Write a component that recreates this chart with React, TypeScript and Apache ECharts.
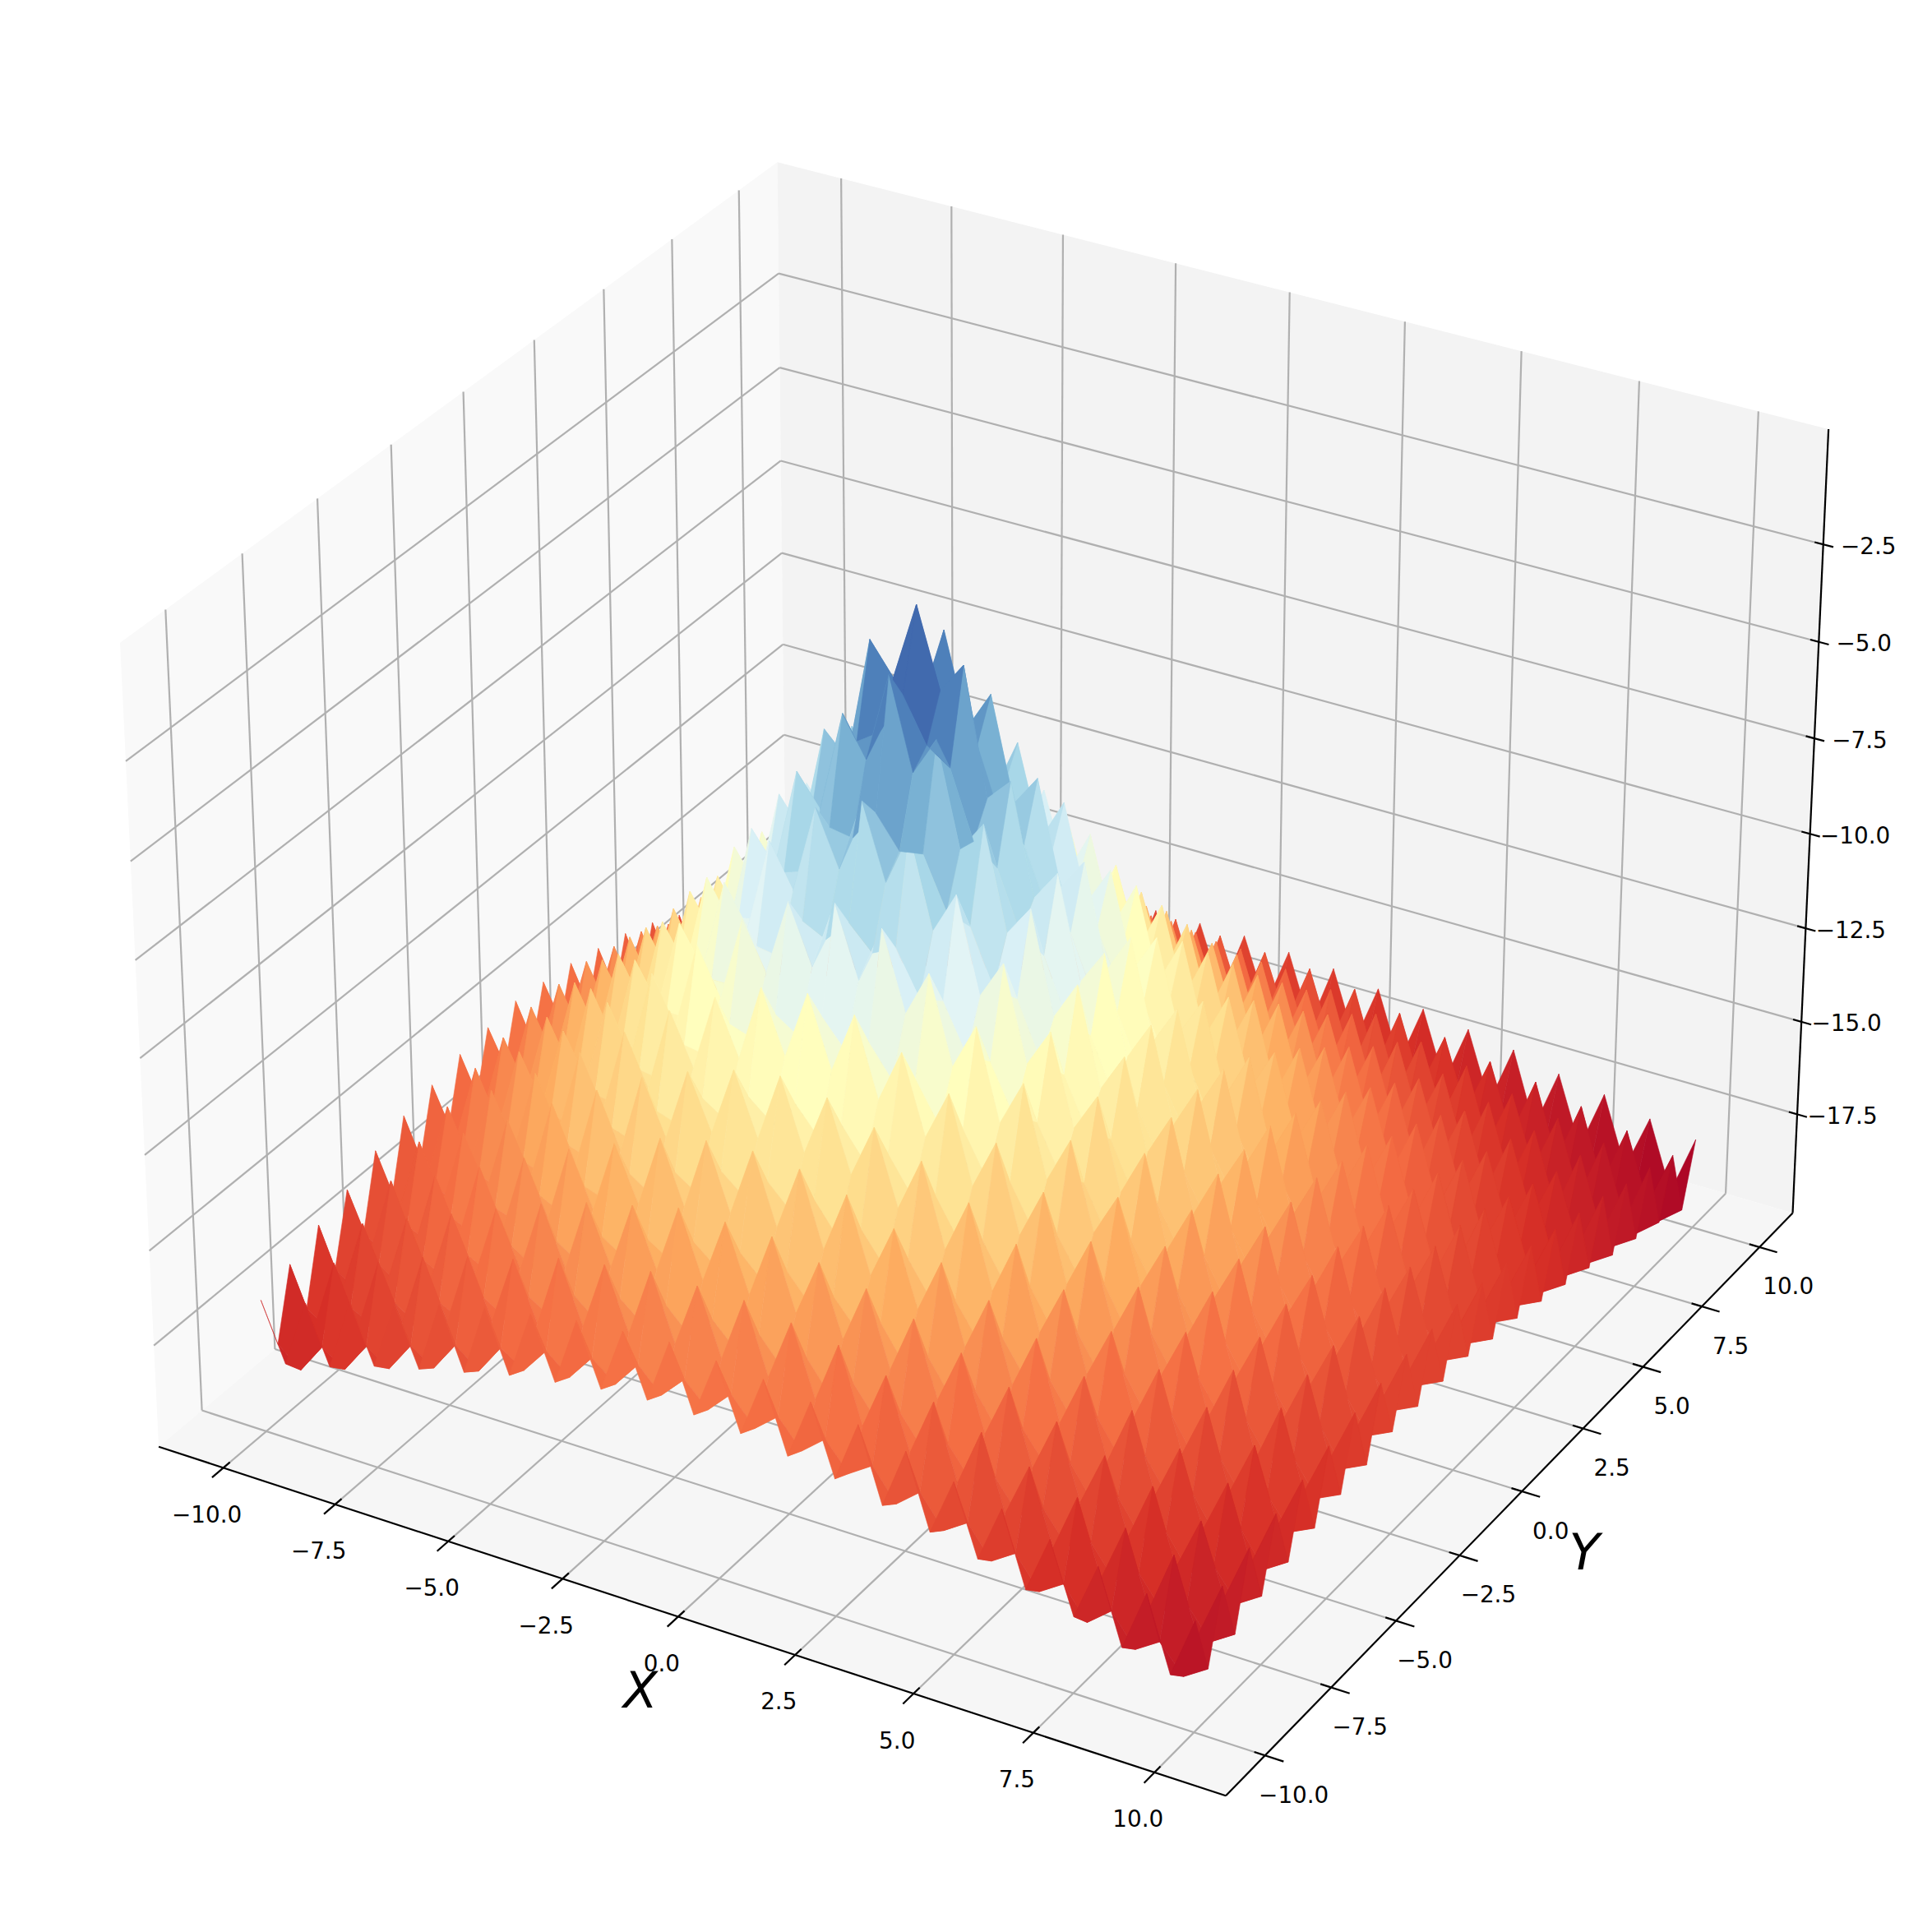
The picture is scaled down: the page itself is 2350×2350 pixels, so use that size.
import React, { useEffect, useRef } from "react";
import * as echarts from "echarts";

// Axis ticks and labels
const xTicks = [-10, -7.5, -5, -2.5, 0, 2.5, 5, 7.5, 10];
const yTicks = [-10, -7.5, -5, -2.5, 0, 2.5, 5, 7.5, 10];
const zTicks = [-17.5, -15, -12.5, -10, -7.5, -5, -2.5];
const xTickLabels = ["\u221210.0", "\u22127.5", "\u22125.0", "\u22122.5", "0.0", "2.5", "5.0", "7.5", "10.0"];
const yTickLabels = ["\u221210.0", "\u22127.5", "\u22125.0", "\u22122.5", "0.0", "2.5", "5.0", "7.5", "10.0"];
const zTickLabels = ["\u221217.5", "\u221215.0", "\u221212.5", "\u221210.0", "\u22127.5", "\u22125.0", "\u22122.5"];

// Surface lattice
const xGrid = [-10,-9.5,-9,-8.5,-8,-7.5,-7,-6.5,-6,-5.5,-5,-4.5,-4,-3.5,-3,-2.5,-2,-1.5,-1,-0.5,0,0.5,1,1.5,2,2.5,3,3.5,4,4.5,5,5.5,6,6.5,7,7.5,8,8.5,9,9.5,10];
const yGrid = xGrid;
const peakX = -1;
const peakY = -1;

// Estimated height (tenths) by distance from the peak, in half-unit steps: rows = |y - peakY|, columns = |x - peakX|
const h00 = [-11,-31,-23,-55,-49,-77,-69,-95,-86,-111,-101,-125,-114,-137,-126,-148,-136,-157,-144,-165,-151,-172,-158];
const h05 = [-31,-42,-46,-63,-68,-83,-87,-102,-104,-118,-119,-131,-132,-143,-143,-154,-153,-163,-161,-171,-169,-178,-175];
const h10 = [-23,-46,-36,-62,-54,-80,-72,-98,-88,-113,-103,-126,-115,-138,-126,-148,-136,-157,-145,-165,-152,-172,-158];
const h15 = [-55,-63,-62,-75,-77,-91,-92,-106,-108,-121,-121,-134,-134,-145,-144,-155,-154,-164,-162,-172,-169,-178,-175];
const h20 = [-49,-68,-54,-77,-66,-90,-80,-104,-94,-117,-107,-130,-118,-141,-129,-150,-138,-159,-146,-166,-153,-173,-159];
const h25 = [-77,-83,-80,-91,-90,-102,-102,-114,-114,-126,-126,-138,-137,-148,-147,-158,-156,-166,-164,-173,-170,-180,-177];
const h30 = [-69,-87,-72,-92,-80,-102,-90,-113,-101,-124,-112,-134,-123,-144,-132,-153,-140,-161,-148,-168,-154,-174,-160];
const h35 = [-95,-102,-98,-106,-104,-114,-113,-124,-123,-134,-133,-143,-142,-153,-151,-161,-159,-168,-166,-175,-172,-181,-178];
const h40 = [-86,-104,-88,-108,-94,-114,-101,-123,-110,-132,-119,-141,-128,-149,-136,-157,-144,-164,-150,-171,-156,-176,-162];
const h45 = [-111,-118,-113,-121,-117,-126,-124,-134,-132,-142,-140,-150,-148,-158,-155,-165,-162,-172,-169,-178,-175,-183,-180];
const h50 = [-101,-119,-103,-121,-107,-126,-112,-133,-119,-140,-126,-147,-134,-154,-141,-161,-147,-167,-153,-173,-159,-178,-164];
const h55 = [-125,-131,-126,-134,-130,-138,-134,-143,-141,-150,-147,-156,-154,-163,-160,-169,-166,-175,-172,-181,-177,-186,-182];
const h60 = [-114,-132,-115,-134,-118,-137,-123,-142,-128,-148,-134,-154,-140,-160,-146,-166,-151,-171,-157,-176,-162,-181,-166];
const h65 = [-137,-143,-138,-145,-141,-148,-144,-153,-149,-158,-154,-163,-160,-168,-165,-174,-170,-179,-175,-184,-180,-188,-184];
const h70 = [-126,-143,-126,-144,-129,-147,-132,-151,-136,-155,-141,-160,-146,-165,-151,-170,-156,-175,-160,-179,-165,-183,-168];
const h75 = [-148,-154,-148,-155,-150,-158,-153,-161,-157,-165,-161,-169,-166,-174,-170,-178,-175,-183,-179,-187,-183,-191,-187];
const h80 = [-136,-153,-136,-154,-138,-156,-140,-159,-144,-162,-147,-166,-151,-170,-156,-175,-160,-179,-164,-183,-167,-186,-171];
const h85 = [-157,-163,-157,-164,-159,-166,-161,-168,-164,-172,-167,-175,-171,-179,-175,-183,-179,-187,-182,-190,-186,-193,-189];
const h90 = [-144,-161,-145,-162,-146,-164,-148,-166,-150,-169,-153,-172,-157,-175,-160,-179,-164,-182,-167,-186,-170,-189,-173];
const h95 = [-165,-171,-165,-172,-166,-173,-168,-175,-171,-178,-173,-181,-176,-184,-179,-187,-183,-190,-186,-193,-189,-196,-191];
const h100 = [-151,-169,-152,-169,-153,-170,-154,-172,-156,-175,-159,-177,-162,-180,-165,-183,-167,-186,-170,-189,-173,-191,-176];
const h105 = [-172,-178,-172,-178,-173,-180,-174,-181,-176,-183,-178,-186,-181,-188,-183,-191,-186,-193,-189,-196,-191,-199,-194];
const h110 = [-158,-175,-158,-175,-159,-177,-160,-178,-162,-180,-164,-182,-166,-184,-168,-187,-171,-189,-173,-191,-176,-194,-178];
const heightRows = [h00,h05,h10,h15,h20,h25,h30,h35,h40,h45,h50,h55,h60,h65,h70,h75,h80,h85,h90,h95,h100,h105,h110];

const rdYlBu = ["#a50026","#d73027","#f46d43","#fdae61","#fee090","#ffffbf","#e0f3f8","#abd9e9","#74add1","#4575b4","#313695"];
const colorMin = -19.4;
const colorMax = -1.4;

// Box limits of the 3D axes
const XLO = -11.458, XHI = 11.458, YLO = -11.458, YHI = 11.458, ZLO = -20.2, ZHI = 0.42;
// Camera: elevation 30, azimuth -60, distance 10
const BOX = [1.1905, 1.1905, 0.8909];
const EYE = [4.9254, -6.9048, 5.4464];
const U = [0.8660, 0.5, 0];
const V = [-0.25, 0.4330, 0.8660];
const W = [0.4330, -0.75, 0.5];
const SX = 12490, SY = 12510, TX = 1205, TY = 1142;

function cam(x: number, y: number, z: number) {
  const p = [
    ((x - XLO) / (XHI - XLO)) * BOX[0] - EYE[0],
    ((y - YLO) / (YHI - YLO)) * BOX[1] - EYE[1],
    ((z - ZLO) / (ZHI - ZLO)) * BOX[2] - EYE[2],
  ];
  const d = (a: number[]) => a[0] * p[0] + a[1] * p[1] + a[2] * p[2];
  return [d(U), d(V), d(W)];
}
function project(x: number, y: number, z: number) {
  const c = cam(x, y, z);
  return [TX + (SX * c[0]) / -c[2], TY - (SY * c[1]) / -c[2]];
}
function heightAt(x: number, y: number) {
  return heightRows[Math.abs(y - peakY) * 2][Math.abs(x - peakX) * 2] / 10;
}

function buildQuads() {
  const quads: number[][] = [];
  for (let j = 0; j < yGrid.length - 1; j++) {
    for (let i = 0; i < xGrid.length - 1; i++) {
      const x0 = xGrid[i], x1 = xGrid[i + 1], y0 = yGrid[j], y1 = yGrid[j + 1];
      quads.push([x0, y0, x1, y1, heightAt(x0, y0), heightAt(x1, y0), heightAt(x1, y1), heightAt(x0, y1)]);
    }
  }
  const depth = (q: number[]) => cam((q[0] + q[2]) / 2, (q[1] + q[3]) / 2, (q[4] + q[5] + q[6] + q[7]) / 4)[2];
  return quads.sort((a, b) => depth(a) - depth(b));
}

function buildGridLines() {
  const s: number[][] = [];
  xTicks.forEach((t) => {
    s.push([t, YLO, ZLO, t, YHI, ZLO]);
    s.push([t, YHI, ZLO, t, YHI, ZHI]);
  });
  yTicks.forEach((t) => {
    s.push([XHI, t, ZLO, XLO, t, ZLO]);
    s.push([XLO, t, ZLO, XLO, t, ZHI]);
  });
  zTicks.forEach((t) => {
    s.push([XLO, YLO, t, XLO, YHI, t]);
    s.push([XLO, YHI, t, XHI, YHI, t]);
  });
  return s;
}

function buildBlackLines() {
  const s: number[][] = [
    [XLO, YLO, ZLO, XHI, YLO, ZLO],
    [XHI, YLO, ZLO, XHI, YHI, ZLO],
    [XHI, YHI, ZLO, XHI, YHI, ZHI],
  ];
  xTicks.forEach((t) => s.push([t, YLO - 0.38, ZLO, t, YLO + 0.22, ZLO]));
  yTicks.forEach((t) => s.push([XHI + 0.38, t, ZLO, XHI - 0.22, t, ZLO]));
  zTicks.forEach((t) => s.push([XHI + 0.21, YHI, t, XHI - 0.18, YHI, t]));
  return s;
}

const segmentSeries = (data: number[][], stroke: string, lineWidth: number, z: number) => ({
  type: "custom",
  coordinateSystem: "cartesian2d",
  silent: true,
  clip: false,
  z,
  progressive: 0,
  data,
  renderItem: (_p: any, api: any) => {
    const a = project(api.value(0), api.value(1), api.value(2));
    const b = project(api.value(3), api.value(4), api.value(5));
    const pa = api.coord(a), pb = api.coord(b);
    return {
      type: "line",
      shape: { x1: pa[0], y1: pa[1], x2: pb[0], y2: pb[1] },
      style: { stroke, lineWidth, fill: "none" },
    };
  },
});

const paneData = [
  [XLO, YLO, ZLO, XLO, YHI, ZLO, XLO, YHI, ZHI, XLO, YLO, ZHI, 0],
  [XLO, YHI, ZLO, XHI, YHI, ZLO, XHI, YHI, ZHI, XLO, YHI, ZHI, 1],
  [XLO, YLO, ZLO, XHI, YLO, ZLO, XHI, YHI, ZLO, XLO, YHI, ZLO, 2],
];
const paneFill = ["#f9f9f9", "#f3f3f3", "#f6f6f6"];

const labelSeries = (
  items: { x: number; y: number; z: number; text: string; dx: number; dy: number }[],
  font: string,
) => ({
  type: "custom",
  coordinateSystem: "cartesian2d",
  silent: true,
  clip: false,
  z: 6,
  progressive: 0,
  data: items.map((it, i) => [it.x, it.y, it.z, i]),
  renderItem: (_p: any, api: any) => {
    const it = items[api.value(3)];
    const p = api.coord(project(api.value(0), api.value(1), api.value(2)));
    return {
      type: "text",
      style: {
        x: p[0] + it.dx,
        y: p[1] + it.dy,
        text: it.text,
        font,
        fill: "#000",
        align: "center",
        verticalAlign: "middle",
        textAlign: "center",
        textVerticalAlign: "middle",
      },
    };
  },
});

export default function App() {
  const ref = useRef<HTMLDivElement>(null);
  useEffect(() => {
    const chart = echarts.init(ref.current!, undefined, { renderer: "svg" });
    const tickFont = '27.8px "DejaVu Sans"';
    const axisFont = 'italic 61px "DejaVu Sans"';
    chart.setOption({
      animation: false,
      backgroundColor: "#ffffff",
      grid: { left: 0, top: 0, right: 0, bottom: 0 },
      xAxis: { type: "value", min: 0, max: 2350, show: false },
      yAxis: { type: "value", min: 0, max: 2350, inverse: true, show: false },
      series: [
        {
          type: "custom",
          coordinateSystem: "cartesian2d",
          silent: true,
          clip: false,
          z: 1,
          progressive: 0,
          data: paneData,
          renderItem: (_p: any, api: any) => {
            const pts = [0, 3, 6, 9].map((k) =>
              api.coord(project(api.value(k), api.value(k + 1), api.value(k + 2))),
            );
            return { type: "polygon", shape: { points: pts }, style: { fill: paneFill[api.value(12)] } };
          },
        },
        segmentSeries(buildGridLines(), "#b0b0b0", 2.2, 2),
        segmentSeries(buildBlackLines(), "#000000", 2.2, 3),
        {
          type: "custom",
          coordinateSystem: "cartesian2d",
          silent: true,
          clip: false,
          z: 4,
          progressive: 0,
          data: buildQuads(),
          renderItem: (_p: any, api: any) => {
            const x0 = api.value(0), y0 = api.value(1), x1 = api.value(2), y1 = api.value(3);
            const z00 = api.value(4), z10 = api.value(5), z11 = api.value(6), z01 = api.value(7);
            const pts = [
              api.coord(project(x0, y0, z00)),
              api.coord(project(x1, y0, z10)),
              api.coord(project(x1, y1, z11)),
              api.coord(project(x0, y1, z01)),
            ];
            const avg = (z00 + z10 + z11 + z01) / 4;
            const t = Math.max(0, Math.min(1, (avg - colorMin) / (colorMax - colorMin)));
            const c = echarts.color.lerp(t, rdYlBu);
            return {
              type: "polygon",
              shape: { points: pts },
              style: { fill: c, stroke: c, lineWidth: 0.6 },
            };
          },
        },
        labelSeries(
          xTicks.map((t, i) => ({ x: t, y: YLO, z: ZLO, text: xTickLabels[i], dx: -20, dy: 57 })),
          tickFont,
        ),
        labelSeries(
          yTicks.map((t, i) => ({ x: XHI, y: t, z: ZLO, text: yTickLabels[i], dx: 35, dy: 48 })),
          tickFont,
        ),
        labelSeries(
          zTicks.map((t, i) => ({ x: XHI, y: YHI, z: t, text: zTickLabels[i], dx: 55, dy: 2 })),
          tickFont,
        ),
        labelSeries([{ x: -1.1, y: YLO, z: ZLO, text: "X", dx: 16, dy: 109 }], axisFont),
        labelSeries([{ x: XHI, y: -0.4, z: ZLO, text: "Y", dx: 88, dy: 61 }], axisFont),
      ],
    });
    return () => chart.dispose();
  }, []);
  return <div ref={ref} style={{ position: "absolute", left: 0, top: 0, width: 2350, height: 2350 }} />;
}
